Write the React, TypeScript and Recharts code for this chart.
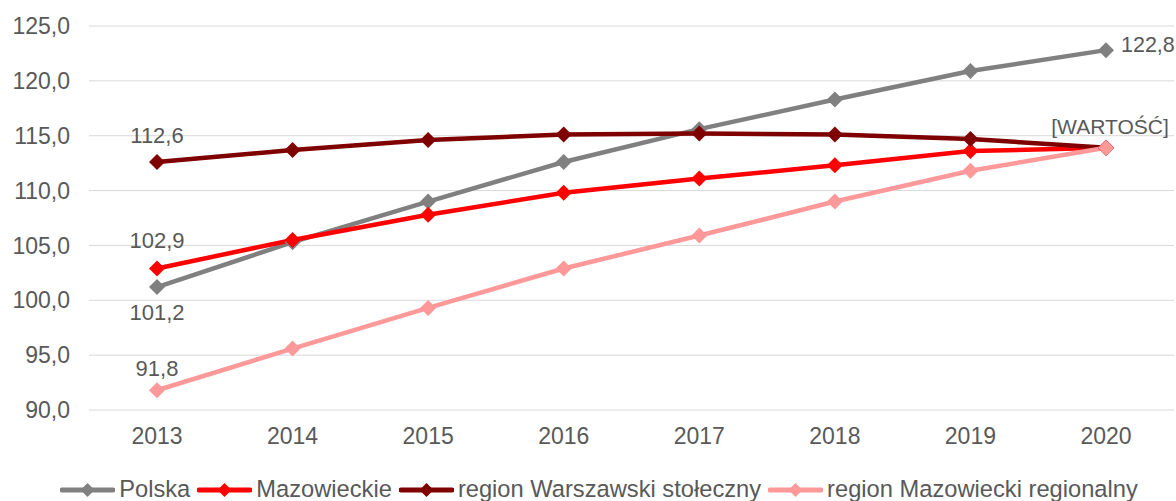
import { LineChart, Line, XAxis, YAxis, CartesianGrid, Legend, LabelList } from 'recharts';

const years = ['2013', '2014', '2015', '2016', '2017', '2018', '2019', '2020'];
const polska = [101.2, 105.3, 109.0, 112.6, 115.6, 118.3, 120.9, 122.8];
const mazowieckie = [102.9, 105.5, 107.8, 109.8, 111.1, 112.3, 113.6, 113.9];
const warszawski = [112.6, 113.7, 114.6, 115.1, 115.2, 115.1, 114.7, 113.9];
const regionalny = [91.8, 95.6, 99.3, 102.9, 105.9, 109.0, 111.8, 113.9];
const yTicks = [90, 95, 100, 105, 110, 115, 120, 125];

const series = [
    { key: 'Polska', color: '#808080' },
    { key: 'Mazowieckie', color: '#ff0000' },
    { key: 'region Warszawski stołeczny', color: '#7f0000' },
    { key: 'region Mazowiecki regionalny', color: '#ff9999' },
];

const data = years.map((year, i) => ({
    year,
    'Polska': polska[i],
    'Mazowieckie': mazowieckie[i],
    'region Warszawski stołeczny': warszawski[i],
    'region Mazowiecki regionalny': regionalny[i],
}));

const textColor = '#595959';
const font = '"Liberation Sans", Arial, sans-serif';
const fmt = (v: number) => v.toFixed(1).replace('.', ',');

function Diamond(props: any) {
    const { cx, cy, stroke } = props;
    if (cx == null || cy == null) return null;
    const r = 8;
    return <path d={`M${cx},${cy - r} L${cx + r},${cy} L${cx},${cy + r} L${cx - r},${cy} Z`} fill={stroke} />;
}

// first point label sits above/below the point, last one is special per series
function makeLabel(firstDy: number, last: null | 'right' | 'placeholder') {
    return (props: any) => {
        const { x, y, value, index } = props;
        if (index === 0) {
            return (
                <text x={x} y={y + firstDy} textAnchor="middle" dominantBaseline="central" fill={textColor} fontSize={22} fontFamily={font}>
                    {fmt(value)}
                </text>
            );
        }
        if (index === years.length - 1 && last === 'right') {
            return (
                <text x={x + 15} y={y - 5} textAnchor="start" dominantBaseline="central" fill={textColor} fontSize={21.5} fontFamily={font}>
                    {fmt(value)}
                </text>
            );
        }
        if (index === years.length - 1 && last === 'placeholder') {
            return (
                <text x={x + 4} y={y - 21} textAnchor="middle" dominantBaseline="central" fill={textColor} fontSize={21} fontFamily={font}>
                    [WARTOŚĆ]
                </text>
            );
        }
        return null;
    };
}

function LegendContent() {
    return (
        <div style={{ display: 'flex', justifyContent: 'center', alignItems: 'center', height: 47, paddingTop: 24, boxSizing: 'border-box', fontFamily: font, fontSize: 23.7, color: textColor, paddingLeft: 24 }}>
            {series.map((s, i) => (
                <div key={s.key} style={{ display: 'flex', alignItems: 'center', marginRight: i < series.length - 1 ? 7 : 0 }}>
                    <svg width={55} height={16} style={{ marginRight: 4 }}>
                        <line x1={2} y1={8} x2={53} y2={8} stroke={s.color} strokeWidth={5} strokeLinecap="round" />
                        <path d="M27.5,1 L34.5,8 L27.5,15 L20.5,8 Z" fill={s.color} />
                    </svg>
                    <span style={{ whiteSpace: 'nowrap' }}>{s.key}</span>
                </div>
            ))}
        </div>
    );
}

export default function App() {
    return (
        <div style={{ position: 'absolute', left: 0, top: 0, background: '#fff' }}>
            <LineChart width={1176} height={501} data={data} margin={{ top: 26, right: 2, left: 0, bottom: 0 }}>
                <CartesianGrid stroke="#d9d9d9" vertical={false} />
                <XAxis
                    dataKey="year"
                    axisLine={false}
                    tickLine={false}
                    padding={{ left: 68, right: 68 }}
                    height={44}
                    tickMargin={12}
                    tick={{ fill: textColor, fontSize: 23, fontFamily: font }}
                />
                <YAxis
                    domain={[90, 125]}
                    ticks={yTicks}
                    width={89}
                    axisLine={false}
                    tickLine={false}
                    tickMargin={13}
                    tickFormatter={(v) => fmt(v)}
                    tick={{ fill: textColor, fontSize: 23, fontFamily: font }}
                />
                <Legend verticalAlign="bottom" height={47} content={<LegendContent />} />
                <Line dataKey="Polska" stroke={series[0].color} strokeWidth={4.5} dot={<Diamond />} activeDot={false} isAnimationActive={false}>
                    <LabelList dataKey="Polska" content={makeLabel(25, 'right')} />
                </Line>
                <Line dataKey="Mazowieckie" stroke={series[1].color} strokeWidth={4.5} dot={<Diamond />} activeDot={false} isAnimationActive={false}>
                    <LabelList dataKey="Mazowieckie" content={makeLabel(-28, null)} />
                </Line>
                <Line dataKey="region Warszawski stołeczny" stroke={series[2].color} strokeWidth={4.5} dot={<Diamond />} activeDot={false} isAnimationActive={false}>
                    <LabelList dataKey="region Warszawski stołeczny" content={makeLabel(-27, null)} />
                </Line>
                <Line dataKey="region Mazowiecki regionalny" stroke={series[3].color} strokeWidth={4.5} dot={<Diamond />} activeDot={false} isAnimationActive={false}>
                    <LabelList dataKey="region Mazowiecki regionalny" content={makeLabel(-22, 'placeholder')} />
                </Line>
            </LineChart>
        </div>
    );
}
